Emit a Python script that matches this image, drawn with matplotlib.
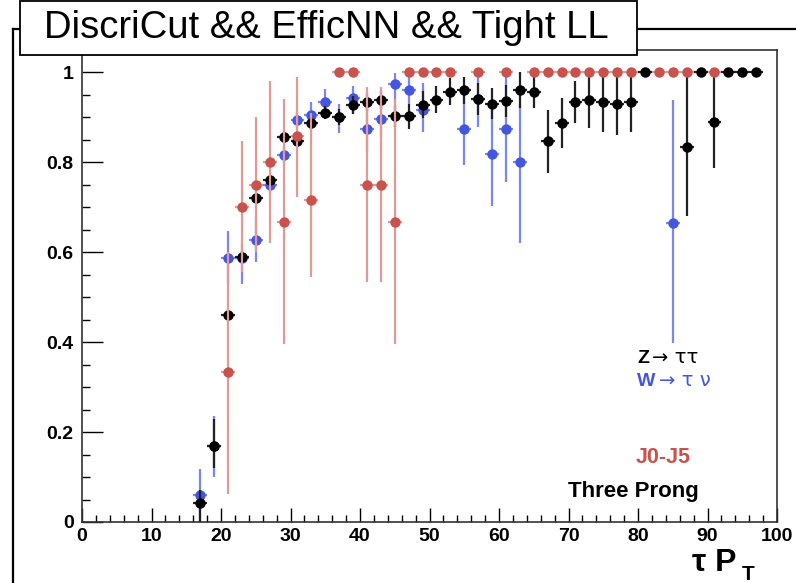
import matplotlib
matplotlib.use("Agg")
import matplotlib.pyplot as plt
import numpy as np
from matplotlib.lines import Line2D
from matplotlib.patches import Rectangle
from matplotlib.ticker import MultipleLocator

plt.rcParams['font.family'] = ['Liberation Sans', 'DejaVu Sans']

# ---- data ----
# Z -> tau tau (black)
z_x = [17, 19, 21, 23, 25, 27, 29, 31, 33, 35, 37, 39, 41, 43, 45, 47, 49, 51, 53, 55,
       57, 59, 61, 63, 65, 67, 69, 71, 73, 75, 77, 79, 81, 87, 89, 91, 93, 95, 97]
z_y = [0.042, 0.17, 0.46, 0.59, 0.72, 0.76, 0.855, 0.847, 0.886, 0.91, 0.90, 0.927, 0.933,
       0.938, 0.902, 0.902, 0.927, 0.938, 0.956, 0.96, 0.94, 0.93, 0.936, 0.96, 0.955,
       0.847, 0.886, 0.933, 0.938, 0.933, 0.929, 0.933, 1.0, 0.833, 1.0, 0.888, 1.0, 1.0, 1.0]
z_lo = [0.042, 0.05, 0.012, 0.012, 0.012, 0.012, 0.012, 0.012, 0.012, 0.015, 0.018, 0.02, 0.02,
        0.02, 0.025, 0.028, 0.03, 0.03, 0.03, 0.03, 0.035, 0.035, 0.035, 0.04, 0.035,
        0.072, 0.054, 0.047, 0.062, 0.066, 0.069, 0.066, 0.0, 0.153, 0.0, 0.102, 0.0, 0.0, 0.0]
z_hi = [0.03, 0.06, 0.012, 0.012, 0.012, 0.012, 0.012, 0.012, 0.012, 0.015, 0.018, 0.02, 0.02,
        0.02, 0.025, 0.028, 0.03, 0.03, 0.03, 0.03, 0.035, 0.035, 0.035, 0.04, 0.035,
        0.069, 0.056, 0.047, 0.062, 0.067, 0.071, 0.067, 0.0, 0.167, 0.0, 0.112, 0.0, 0.0, 0.0]

# W -> tau nu (blue)
w_x = [17, 19, 21, 23, 25, 27, 29, 31, 33, 35, 37, 39, 41, 43, 45, 47, 49, 55, 57, 59, 61, 63, 85]
w_y = [0.061, 0.17, 0.586, 0.587, 0.627, 0.749, 0.816, 0.893, 0.904, 0.933, 0.90, 0.943,
       0.873, 0.896, 0.973, 0.96, 0.916, 0.873, 0.94, 0.818, 0.873, 0.80, 0.665]
w_lo = [0.061, 0.07, 0.056, 0.057, 0.05, 0.02, 0.02, 0.02, 0.03, 0.03, 0.036, 0.033,
        0.05, 0.04, 0.04, 0.03, 0.049, 0.08, 0.062, 0.116, 0.117, 0.18, 0.268]
w_hi = [0.057, 0.066, 0.061, 0.03, 0.05, 0.02, 0.02, 0.02, 0.03, 0.03, 0.03, 0.027,
        0.05, 0.04, 0.024, 0.03, 0.059, 0.097, 0.06, 0.112, 0.127, 0.13, 0.273]

# J0-J5 (red)
j_x = [21, 23, 25, 27, 29, 31, 33, 37, 39, 41, 43, 45, 47, 49, 51, 53, 57, 61,
       65, 67, 69, 71, 73, 75, 77, 79, 83, 85, 87, 91]
j_y = [0.334, 0.70, 0.749, 0.80, 0.667, 0.857, 0.716, 1.0, 1.0, 0.749, 0.749, 0.667,
       1.0, 1.0, 1.0, 1.0, 1.0, 1.0, 1.0, 1.0, 1.0, 1.0, 1.0, 1.0, 1.0, 1.0, 1.0, 1.0, 1.0, 1.0]
j_lo = [0.272, 0.144, 0.149, 0.18, 0.271, 0.134, 0.171, 0, 0, 0.215, 0.215, 0.271,
        0, 0, 0, 0, 0, 0, 0, 0, 0, 0, 0, 0, 0, 0, 0, 0, 0, 0]
j_hi = [0.266, 0.147, 0.151, 0.18, 0.273, 0.133, 0.194, 0, 0, 0.217, 0.217, 0.273,
        0, 0, 0, 0, 0, 0, 0, 0, 0, 0, 0, 0, 0, 0, 0, 0, 0, 0]

x_ticks = [0, 10, 20, 30, 40, 50, 60, 70, 80, 90, 100]
y_ticks = [0, 0.2, 0.4, 0.6, 0.8, 1.0]
y_tick_labels = ["0", "0.2", "0.4", "0.6", "0.8", "1"]

W, H = 796, 583
fig = plt.figure(figsize=(W / 100, H / 100), dpi=100)


def fx(px):
    return px / W


def fy(py):
    return 1 - py / H


ax = fig.add_axes([fx(82), fy(522), fx(777) - fx(82), fy(50) - fy(522)])
ax.set_xlim(0, 100)
ax.set_ylim(0, 1.049)

blue = '#4455e0'
blue_e = '#7888f0'
red = '#c9534c'
red_e = '#e29a95'

ax.errorbar(w_x, w_y, yerr=[w_lo, w_hi], xerr=1, fmt='o', color=blue, ecolor=blue_e,
            elinewidth=1.6, markersize=7.5, markeredgewidth=0, capsize=0, zorder=3)
ax.errorbar(z_x, z_y, yerr=[z_lo, z_hi], xerr=1, fmt='o', color='black', ecolor='#222222',
            elinewidth=1.6, markersize=7.5, markeredgewidth=0, capsize=0, zorder=4)
ax.errorbar(j_x, j_y, yerr=[j_lo, j_hi], xerr=1, fmt='o', color=red, ecolor=red_e,
            elinewidth=1.6, markersize=7.5, markeredgewidth=0, capsize=0, zorder=5)

ax.set_xticks(x_ticks)
ax.set_xticklabels([str(t) for t in x_ticks])
ax.set_yticks(y_ticks)
ax.set_yticklabels(y_tick_labels)
ax.xaxis.set_minor_locator(MultipleLocator(2))
ax.yaxis.set_minor_locator(MultipleLocator(0.05))
ax.tick_params(axis='x', which='major', direction='in', length=10, width=1, pad=4,
               labelsize=14, top=False)
ax.tick_params(axis='x', which='minor', direction='in', length=5, width=1, top=False)
ax.tick_params(axis='y', which='major', direction='in', length=15, width=1, pad=6,
               labelsize=14, right=False)
ax.tick_params(axis='y', which='minor', direction='in', length=6, width=1, right=False)
for lab in ax.get_xticklabels() + ax.get_yticklabels():
    lab.set_fontweight('bold')
for sp in ax.spines.values():
    sp.set_linewidth(1.2)
    sp.set_color('#333333')

# legend-like texts
fig.text(fx(637), fy(363), "Z", fontsize=14, fontweight='bold', color='black', va='baseline')
fig.text(fx(652), fy(363), "→ ττ", fontsize=14, color='black', va='baseline',
         family=['DejaVu Sans'])
fig.text(fx(637), fy(386), "W", fontsize=14, fontweight='bold', color=blue, va='baseline')
fig.text(fx(659), fy(386), "→ τ ν", fontsize=14, color=blue, va='baseline',
         family=['DejaVu Sans'])
fig.text(fx(636), fy(463), "J0-J5", fontsize=15.5, fontweight='bold', color=red, va='baseline')
fig.text(fx(568), fy(497), "Three Prong", fontsize=16, fontweight='bold', color='black',
         va='baseline')

# x axis title
fig.text(fx(692), fy(571), "τ P", fontsize=23, fontweight='bold', color='black', va='baseline')
fig.text(fx(742), fy(580), "T", fontsize=15, fontweight='bold', color='black', va='baseline')

# outer frame
fig.add_artist(Line2D([fx(13), fx(13)], [fy(29), fy(590)], color='black', lw=1.6,
                      transform=fig.transFigure))
fig.add_artist(Line2D([fx(13), fx(800)], [fy(29), fy(29)], color='black', lw=1.6,
                      transform=fig.transFigure))

# title box
box = Rectangle((fx(20), fy(55)), fx(637) - fx(20), fy(1) - fy(55), transform=fig.transFigure,
                facecolor='white', edgecolor='black', lw=1.3, zorder=10)
fig.add_artist(box)
fig.text(fx(326), fy(28), "DiscriCut && EfficNN && Tight LL", fontsize=27.5, ha='center',
         va='center', color='black', zorder=11)

fig.savefig("out.png", dpi=100)
